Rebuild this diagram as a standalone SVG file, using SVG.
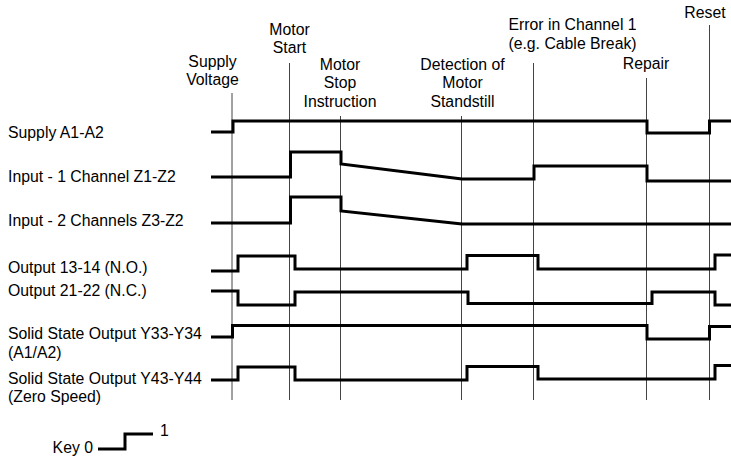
<svg xmlns="http://www.w3.org/2000/svg" width="731" height="461" viewBox="0 0 731 461">
<style>
text{font-family:"Liberation Sans",Arial,sans-serif;font-size:15.8px;fill:#000}
.c{text-anchor:middle}
.e{text-anchor:end}
.ev{stroke:#444;stroke-width:1;fill:none}
.sig{stroke:#000;stroke-width:3;fill:none;stroke-linejoin:miter}
</style>
<rect width="731" height="461" fill="#fff"/>
<g id="events">
<g id="ev-supply"><line class="ev" x1="232" y1="93" x2="232" y2="400"/><text class="c" x="212.5" y="67">Supply</text><text class="c" x="212.5" y="85">Voltage</text></g>
<g id="ev-start"><line class="ev" x1="289.5" y1="63" x2="289.5" y2="400"/><text class="c" x="289.5" y="35">Motor</text><text class="c" x="289.5" y="53">Start</text></g>
<g id="ev-stop"><line class="ev" x1="340.5" y1="116" x2="340.5" y2="400"/><text class="c" x="340" y="70">Motor</text><text class="c" x="340" y="88">Stop</text><text class="c" x="340" y="107">Instruction</text></g>
<g id="ev-standstill"><line class="ev" x1="461.5" y1="116" x2="461.5" y2="400"/><text class="c" x="462.5" y="70">Detection of</text><text class="c" x="462.5" y="88">Motor</text><text class="c" x="462.5" y="107">Standstill</text></g>
<g id="ev-error"><line class="ev" x1="533.5" y1="63" x2="533.5" y2="400"/><text class="c" x="572.5" y="30">Error in Channel 1</text><text class="c" x="572.5" y="49">(e.g. Cable Break)</text></g>
<g id="ev-repair"><line class="ev" x1="646.5" y1="78" x2="646.5" y2="400"/><text class="c" x="646" y="69">Repair</text></g>
<g id="ev-reset"><line class="ev" x1="709.5" y1="25" x2="709.5" y2="400"/><text class="c" x="705" y="18">Reset</text></g>
</g>
<g id="signals">
<g id="sig-supply"><text x="8" y="138">Supply A1-A2</text><path class="sig" d="M211,132H233V121H647V133H709.5V121H731"/></g>
<g id="sig-in1"><text x="8" y="182">Input - 1 Channel Z1-Z2</text><path class="sig" d="M211,177H290.5V152H341V164L462,179H534V166H647V181H731"/></g>
<g id="sig-in2"><text x="8" y="226">Input - 2 Channels Z3-Z2</text><path class="sig" d="M211,223H290.5V197H341V211L462,224H731"/></g>
<g id="sig-no"><text x="8" y="273">Output 13-14 (N.O.)</text><path class="sig" d="M211,271H238V256H295V269H467V255.5H538V269H715V255H731"/></g>
<g id="sig-nc"><text x="8" y="296">Output 21-22 (N.C.)</text><path class="sig" d="M211,291H238V305H295V292H468V303.5H652V292H715V305H731"/></g>
<g id="sig-y33"><text x="8" y="338.5">Solid State Output Y33-Y34</text><text x="8" y="357.5">(A1/A2)</text><path class="sig" d="M211,337H232.5V325.5H647V339H709.5V326.5H731"/></g>
<g id="sig-y43"><text x="8" y="384">Solid State Output Y43-Y44</text><text x="8" y="402">(Zero Speed)</text><path class="sig" d="M211,380H238V367H295V380H467V366.5H538V379H715V365.5H731"/></g>
</g>
<g id="key"><text class="e" x="93" y="453">Key 0</text><path class="sig" d="M98,449H125V434H153"/><text x="160" y="436">1</text></g>
</svg>
